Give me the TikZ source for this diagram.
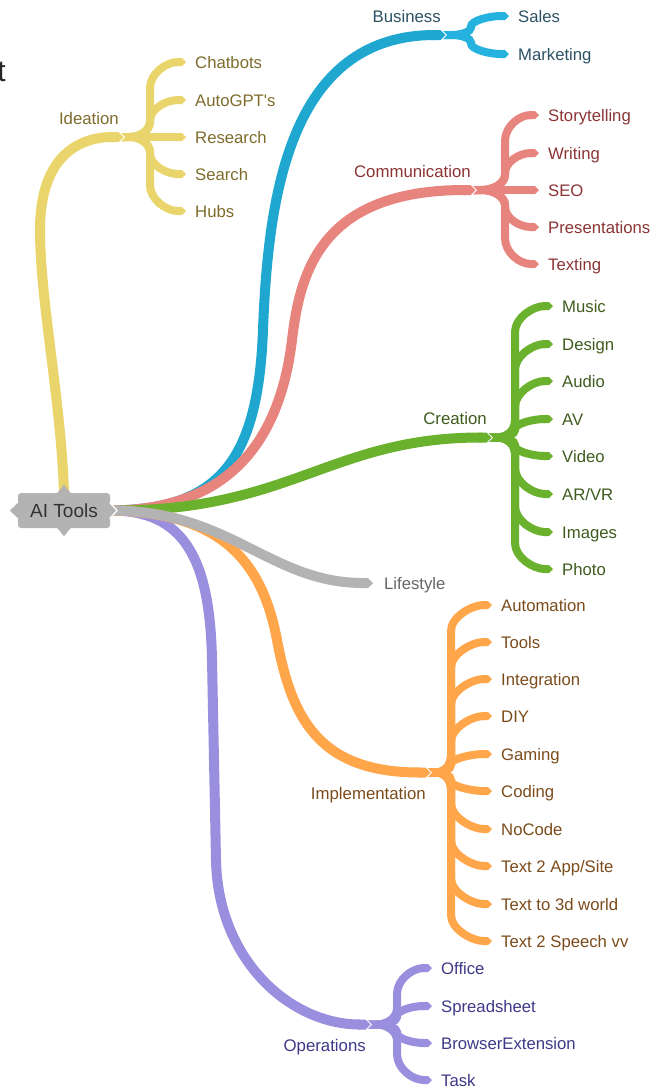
\documentclass[tikz,border=0pt]{standalone}
\usepackage{fontspec}
\setmainfont{Liberation Sans}
\usetikzlibrary{arrows.meta,calc}
\pgfdeclarelayer{bg}
\pgfsetlayers{bg,main}
\definecolor{cIde}{HTML}{E9D56C}\definecolor{tIde}{HTML}{7D6C2B}
\definecolor{cBus}{HTML}{1FA7D0}\definecolor{cBusS}{HTML}{26B2DE}\definecolor{tBus}{HTML}{2C5264}
\definecolor{cCom}{HTML}{E8847E}\definecolor{tCom}{HTML}{8B3434}
\definecolor{cCre}{HTML}{6AB22D}\definecolor{tCre}{HTML}{3D5C1D}
\definecolor{cLif}{HTML}{B3B3B3}\definecolor{tLif}{HTML}{666666}
\definecolor{cImp}{HTML}{FFA54A}\definecolor{tImp}{HTML}{7B4B1B}
\definecolor{cOps}{HTML}{9A8FDE}\definecolor{tOps}{HTML}{3E3886}
\definecolor{rootgray}{HTML}{B3B3B3}\definecolor{rootText}{HTML}{333333}
\newcommand{\straightquote}{{\addfontfeature{Ligatures=TeXOff}'}}
\tikzset{
  lbl/.style={inner sep=0pt, anchor=west, font=\fontsize{16.7}{19}\selectfont, text height=12pt, text depth=0pt},
  toplbl/.style={inner sep=0pt, font=\fontsize{16.8}{19}\selectfont, text height=12pt, text depth=0pt},
  mainline/.style={line width=10pt, -{Triangle Cap}},
  subline/.style={line width=8pt, -{Triangle Cap}},
  notchline/.style={line width=12pt, white, -{Triangle Cap}},
  rootbox/.style={fill=rootgray, text=rootText, rounded corners=3pt, minimum width=92pt, minimum height=35pt, inner sep=0pt, font=\fontsize{19}{22}\selectfont},
}
% #1 colour, #2 fork x, #3 fork y, #4 offset of vertical run, #5 end y, #6 label node
\newcommand{\subbranch}[6]{%
  \pgfmathsetmacro\mmdy{#5-(#3)}%
  \pgfmathsetmacro\mmady{abs(\mmdy)}%
  \pgfmathsetmacro\mmsg{\mmdy<0 ? -1 : 1}%
  \pgfmathsetmacro\mmvx{#2+#4}%
  \pgfmathsetmacro\mmra{min(16,0.4*\mmady)}%
  \pgfmathsetmacro\mmrb{min(26,0.55*\mmady)}%
  \pgfmathsetmacro\mmya{#3+\mmsg*\mmra}%
  \pgfmathsetmacro\mmyac{#3+\mmsg*0.45*\mmra}%
  \pgfmathsetmacro\mmxa{#2+0.55*#4}%
  \pgfmathsetmacro\mmyb{#5-\mmsg*\mmrb}%
  \pgfmathsetmacro\mmybc{#5-\mmsg*0.45*\mmrb}%
  \ifdim\mmady pt<1pt
    \draw[subline,#1] (#2-10,#3) -- ([xshift=-9pt]#6.west);
  \else
    \draw[subline,#1] (#2-10,#3) -- (#2,#3) .. controls (\mmxa,#3) and (\mmvx,\mmyac) .. (\mmvx,\mmya) -- (\mmvx,\mmyb) .. controls (\mmvx,\mmybc) and +(-20,0) .. ([xshift=-9pt]#6.west);
  \fi}
\newcommand{\forknotch}[1]{\draw[notchline] ([xshift=-16pt]#1) -- ([xshift=-4pt]#1);}
\begin{document}
\begin{tikzpicture}[x=1pt,y=-1pt,line join=round]
\useasboundingbox (0,0) rectangle (663,1088);

% cut-off letter at the left edge
\node[anchor=base east, inner sep=0pt, font=\fontsize{30}{34}\selectfont, text=black!85] (cut) at (6,81) {t};

% fork points
\coordinate (Fide) at (129,137);
\coordinate (Fbus) at (451,35);
\coordinate (Fcom) at (481,190);
\coordinate (Fcre) at (497,437.5);
\coordinate (Fimp) at (436,772.5);
\coordinate (Fops) at (376,1024.5);

% root
\node[rootbox] (root) at (64,510.5) {AI Tools};
\fill[rootgray] ($(root.north)+(-7,0.5)$) -- ($(root.north)+(0,-8)$) -- ($(root.north)+(7,0.5)$) -- cycle;
\fill[rootgray] ($(root.south)+(-7,-0.5)$) -- ($(root.south)+(0,8)$) -- ($(root.south)+(7,-0.5)$) -- cycle;
\fill[rootgray] ($(root.west)+(0.5,-8)$) -- ($(root.west)+(-8,0)$) -- ($(root.west)+(0.5,8)$) -- cycle;
\filldraw[fill=rootgray, draw=white, line width=1.3pt] ($(root.east)+(-0.5,-8)$) -- ($(root.east)+(7,0)$) -- ($(root.east)+(-0.5,8)$);

% ---------- Ideation
\node[toplbl, anchor=east, text=tIde] (ide) at ($(Fide)+(-10,-19)$) {Ideation};
\foreach \nm/\yy/\tx in {ide1/62/Chatbots, ide2/100/{AutoGPT\straightquote s}, ide3/137/Research, ide4/174/Search, ide5/211/Hubs}{
  \node[lbl, text=tIde] (\nm) at (195,\yy) {\tx};
  \begin{pgfonlayer}{bg}\subbranch{cIde}{129}{137}{21}{\yy}{\nm}\end{pgfonlayer}
}
\begin{pgfonlayer}{bg}
\forknotch{Fide}
\draw[mainline, cIde] (root.north) .. controls (61,400) and (40,300) .. (40,230) .. controls (40,160) and (75,137) .. ([xshift=-16pt]Fide) -- ([xshift=-5.5pt]Fide);
\end{pgfonlayer}

% ---------- Business
\node[toplbl, anchor=east, text=tBus] (bus) at ($(Fbus)+(-10,-19)$) {Business};
\foreach \nm/\yy/\tx in {bus1/16/Sales, bus2/54/Marketing}{
  \node[lbl, text=tBus] (\nm) at (518,\yy) {\tx};
  \begin{pgfonlayer}{bg}\subbranch{cBusS}{451}{35}{20}{\yy}{\nm}\end{pgfonlayer}
}
\begin{pgfonlayer}{bg}
\forknotch{Fbus}
\draw[mainline, cBus] (root.east) .. controls (220,510) and (258,460) .. (263,330) .. controls (268,200) and (288,35) .. ([xshift=-16pt]Fbus) -- ([xshift=-5.5pt]Fbus);
\end{pgfonlayer}

% ---------- Communication
\node[toplbl, anchor=east, text=tCom] (com) at ($(Fcom)+(-10,-19)$) {Communication};
\foreach \nm/\yy/\tx in {com1/115/Storytelling, com2/153/Writing, com3/190/SEO, com4/227/Presentations, com5/264/Texting}{
  \node[lbl, text=tCom] (\nm) at (548,\yy) {\tx};
  \begin{pgfonlayer}{bg}\subbranch{cCom}{481}{190}{24}{\yy}{\nm}\end{pgfonlayer}
}
\begin{pgfonlayer}{bg}
\forknotch{Fcom}
\draw[mainline, cCom] (root.east) .. controls (230,510) and (280,440) .. (292,340) .. controls (300,273) and (320,190) .. ([xshift=-16pt]Fcom) -- ([xshift=-5.5pt]Fcom);
\end{pgfonlayer}

% ---------- Creation
\node[toplbl, anchor=east, text=tCre] (cre) at ($(Fcre)+(-10,-19)$) {Creation};
\foreach \nm/\yy/\tx in {cre1/306/Music, cre2/344/Design, cre3/381/Audio, cre4/419/AV, cre5/456/Video, cre6/494/{AR/VR}, cre7/532/Images, cre8/569/Photo}{
  \node[lbl, text=tCre] (\nm) at (562,\yy) {\tx};
  \begin{pgfonlayer}{bg}\subbranch{cCre}{497}{437.5}{18}{\yy}{\nm}\end{pgfonlayer}
}
\begin{pgfonlayer}{bg}
\forknotch{Fcre}
\draw[mainline, cCre] (root.east) .. controls (290,512) and (330,437.5) .. ([xshift=-16pt]Fcre) -- ([xshift=-5.5pt]Fcre);
\end{pgfonlayer}

% ---------- Operations
\node[toplbl, anchor=east, text=tOps] (ops) at ($(Fops)+(-10,21)$) {Operations};
\foreach \nm/\yy/\tx in {ops1/968/Office, ops2/1006/Spreadsheet, ops3/1043/BrowserExtension, ops4/1080/Task}{
  \node[lbl, text=tOps] (\nm) at (441,\yy) {\tx};
  \begin{pgfonlayer}{bg}\subbranch{cOps}{376}{1024.5}{21}{\yy}{\nm}\end{pgfonlayer}
}
\begin{pgfonlayer}{bg}
\forknotch{Fops}
\draw[mainline, cOps] (root.east) .. controls (185,510) and (210,560) .. (212,660) -- (216,860) .. controls (218,960) and (290,1024.5) .. ([xshift=-16pt]Fops) -- ([xshift=-5.5pt]Fops);
\end{pgfonlayer}

% ---------- Implementation
\node[toplbl, anchor=east, text=tImp] (imp) at ($(Fimp)+(-10,21)$) {Implementation};
\foreach \nm/\yy/\tx in {imp1/605/Automation, imp2/642/Tools, imp3/679/Integration, imp4/716/DIY, imp5/754/Gaming, imp6/791/Coding, imp7/829/NoCode, imp8/866/{Text 2 App/Site}, imp9/904/{Text to 3d world}, imp10/941/{Text 2 Speech vv}}{
  \node[lbl, text=tImp] (\nm) at (501,\yy) {\tx};
  \begin{pgfonlayer}{bg}\subbranch{cImp}{436}{772.5}{15}{\yy}{\nm}\end{pgfonlayer}
}
\begin{pgfonlayer}{bg}
\forknotch{Fimp}
\draw[mainline, cImp] (root.east) .. controls (220,512) and (262,560) .. (277,640) .. controls (292,720) and (320,772.5) .. ([xshift=-16pt]Fimp) -- ([xshift=-5.5pt]Fimp);
\end{pgfonlayer}

% ---------- Lifestyle
\node[lbl, text=tLif] (lif) at (384,583) {Lifestyle};
\begin{pgfonlayer}{bg}
\draw[mainline, cLif] (root.east) .. controls (230,510) and (270,583) .. ([xshift=-11pt]lif.west);
\end{pgfonlayer}

\end{tikzpicture}
\end{document}
